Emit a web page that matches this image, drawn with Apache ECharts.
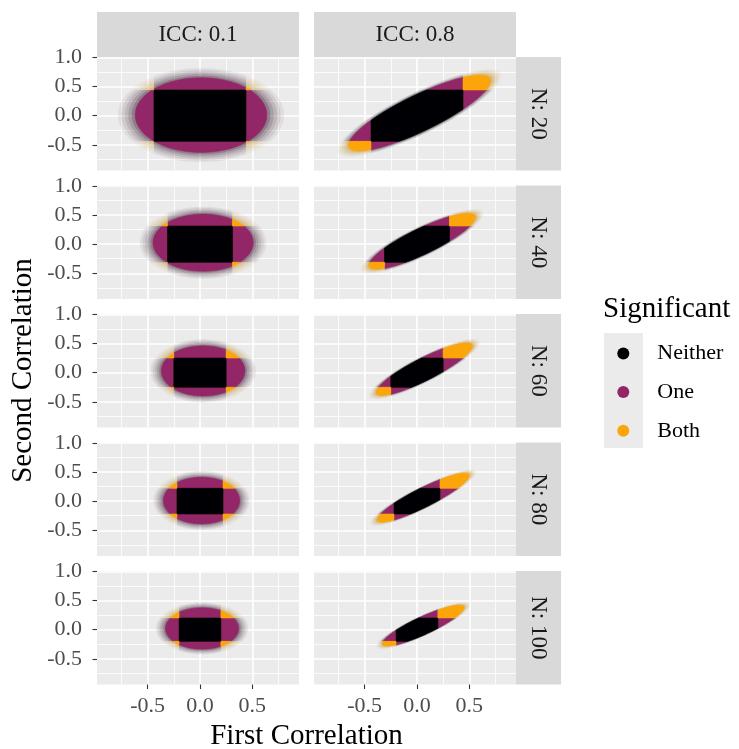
<!DOCTYPE html>
<html>
<head>
<meta charset="utf-8">
<script src="https://cdn.jsdelivr.net/npm/echarts@6/dist/echarts.min.js"></script>
<style>
  html, body { margin: 0; padding: 0; background: #fff; }
  #chart { width: 739px; height: 749px; }
</style>
</head>
<body>
<div id="chart"></div>
<script>
  // facets
  var nLevels = [20, 40, 60, 80, 100];
  var iccLevels = ['0.1', '0.8'];
  var sigLevels = ['Neither', 'One', 'Both'];

  // critical |r| for each N (edges of the black box)
  var critR = [0.44, 0.31, 0.25, 0.22, 0.20];

  // shape of the simulated cloud: rows = N, cols = ICC
  var centerX = [[0.01, 0.025], [0.03, 0.05], [0.03, 0.07], [0.015, 0.06], [0.02, 0.06]];
  var centerY = [[0.01, 0.045], [0.025, 0.05], [0.03, 0.06], [0.01, 0.06], [0.02, 0.07]];
  var spreadX = [[0.63, 0.68], [0.48, 0.51], [0.40, 0.46], [0.365, 0.44], [0.35, 0.39]];
  var spreadY = [[0.64, 0.65], [0.49, 0.48], [0.43, 0.45], [0.40, 0.42], [0.355, 0.35]];
  var cloudCorr = [[0, 0.85], [0, 0.86], [0, 0.88], [0, 0.9], [0, 0.88]];
  var fuzzScale = [1.26, 1.15];

  // axis limits and breaks
  var xRange = [-0.985, 0.947];
  var yRange = [-0.94, 1.005];
  var xBreaks = [-0.5, 0, 0.5];
  var xMinor = [-0.75, -0.25, 0.25, 0.75];
  var yBreaks = [-0.5, 0, 0.5, 1.0];
  var yMinor = [-0.75, -0.25, 0.25, 0.75];

  var classColors = ['#000004', '#932667', '#FCA50A'];
  var fuzzColors = ['#000004', '#4a3044', '#c99a3a'];
  var fuzzLayers = [
    {t: 1, a: 0.08}, {t: 0.8, a: 0.1}, {t: 0.6, a: 0.13},
    {t: 0.4, a: 0.18}, {t: 0.2, a: 0.28}, {t: 0, a: 1}
  ];

  var FONT = 'Liberation Serif';
  var colLeft = [97, 314];
  var panelW = 202, panelH = 113.5, rowTop0 = 57, rowPitch = 128.5;

  function rgba(hex, a) {
    var n = parseInt(hex.slice(1), 16);
    return 'rgba(' + (n >> 16 & 255) + ',' + (n >> 8 & 255) + ',' + (n & 255) + ',' + a + ')';
  }

  function ellipse(r, c, s) {
    var cx = centerX[r][c], cy = centerY[r][c];
    var a = spreadX[r][c] * s, b = spreadY[r][c] * s, rho = cloudCorr[r][c];
    var q = Math.sqrt(1 - rho * rho);
    var pts = [];
    for (var i = 0; i < 90; i++) {
      var t = i / 90 * 2 * Math.PI;
      pts.push([cx + a * Math.cos(t), cy + b * (rho * Math.cos(t) + q * Math.sin(t))]);
    }
    return pts;
  }

  function clipHalf(poly, axis, val, keepGreater) {
    if (!isFinite(val)) return poly;
    var out = [];
    for (var i = 0; i < poly.length; i++) {
      var P = poly[i], Q = poly[(i + 1) % poly.length];
      var pin = keepGreater ? P[axis] >= val : P[axis] <= val;
      var qin = keepGreater ? Q[axis] >= val : Q[axis] <= val;
      if (pin) out.push(P);
      if (pin !== qin) {
        var t = (val - P[axis]) / (Q[axis] - P[axis]);
        out.push([P[0] + t * (Q[0] - P[0]), P[1] + t * (Q[1] - P[1])]);
      }
    }
    return out;
  }

  function clipBox(poly, x0, x1, y0, y1) {
    poly = clipHalf(poly, 0, x0, true);
    if (poly.length) poly = clipHalf(poly, 0, x1, false);
    if (poly.length) poly = clipHalf(poly, 1, y0, true);
    if (poly.length) poly = clipHalf(poly, 1, y1, false);
    return poly;
  }

  function cloudRenderer(r, c, k) {
    return function (params, api) {
      var rc = critR[r];
      var cuts = [-Infinity, -rc, rc, Infinity];
      var children = [];
      fuzzLayers.forEach(function (layer) {
        var poly = ellipse(r, c, 1 + (fuzzScale[c] - 1) * layer.t);
        for (var i = 0; i < 3; i++) {
          for (var j = 0; j < 3; j++) {
            var cls = (i !== 1 ? 1 : 0) + (j !== 1 ? 1 : 0);
            if (cls !== k) continue;
            var part = clipBox(poly, cuts[i], cuts[i + 1], cuts[j], cuts[j + 1]);
            if (part.length < 3) continue;
            var solid = layer.t === 0;
            children.push({
              type: 'polygon',
              shape: {points: part.map(function (p) { return api.coord(p); })},
              style: solid
                ? {fill: classColors[k], stroke: classColors[k], lineWidth: 0.6}
                : {fill: rgba(fuzzColors[k], layer.a)}
            });
          }
        }
      });
      return {type: 'group', children: children};
    };
  }

  var grids = [], xAxes = [], yAxes = [], series = [], graphics = [];
  var fmt = function (v) { return Number(v).toFixed(1); };

  for (var r = 0; r < nLevels.length; r++) {
    for (var c = 0; c < iccLevels.length; c++) {
      var gi = grids.length;
      grids.push({
        left: colLeft[c], top: rowTop0 + r * rowPitch, width: panelW, height: panelH,
        show: true, backgroundColor: '#EBEBEB', borderWidth: 0
      });
      var bottomRow = r === nLevels.length - 1, leftCol = c === 0;
      // major x
      xAxes.push({
        type: 'value', gridIndex: gi, position: 'bottom', min: xRange[0], max: xRange[1],
        minInterval: 0.5, maxInterval: 0.5,
        axisLine: {show: false, onZero: false},
        axisTick: {show: bottomRow, customValues: xBreaks, length: 4.5, lineStyle: {color: '#333333', width: 1.1}},
        axisLabel: {show: bottomRow, customValues: xBreaks, formatter: fmt, margin: 11,
          fontFamily: FONT, fontSize: 22, color: '#4D4D4D'},
        splitLine: {show: true, lineStyle: {color: '#ffffff', width: 1.6}}
      });
      // minor x
      xAxes.push({
        type: 'value', gridIndex: gi, position: 'bottom', min: xRange[0], max: xRange[1],
        minInterval: 0.25, maxInterval: 0.25,
        axisLine: {show: false, onZero: false},
        axisTick: {show: false, customValues: xMinor},
        axisLabel: {show: false, customValues: xMinor},
        splitLine: {show: true, lineStyle: {color: '#ffffff', width: 0.8}}
      });
      yAxes.push({
        type: 'value', gridIndex: gi, position: 'left', min: yRange[0], max: yRange[1],
        minInterval: 0.5, maxInterval: 0.5,
        axisLine: {show: false, onZero: false},
        axisTick: {show: leftCol, customValues: yBreaks, length: 4.5, lineStyle: {color: '#333333', width: 1.1}},
        axisLabel: {show: leftCol, customValues: yBreaks, formatter: fmt, margin: 15,
          fontFamily: FONT, fontSize: 22, color: '#4D4D4D'},
        splitLine: {show: true, lineStyle: {color: '#ffffff', width: 1.6}}
      });
      yAxes.push({
        type: 'value', gridIndex: gi, position: 'left', min: yRange[0], max: yRange[1],
        minInterval: 0.25, maxInterval: 0.25,
        axisLine: {show: false, onZero: false},
        axisTick: {show: false, customValues: yMinor},
        axisLabel: {show: false, customValues: yMinor},
        splitLine: {show: true, lineStyle: {color: '#ffffff', width: 0.8}}
      });
      [1, 0, 2].forEach(function (k) {
        series.push({
          type: 'custom', name: sigLevels[k],
          xAxisIndex: 2 * gi, yAxisIndex: 2 * gi,
          data: [[0, 0]], clip: true, silent: true,
          itemStyle: {color: classColors[k]},
          renderItem: cloudRenderer(r, c, k)
        });
      });
    }
  }

  // column strips
  iccLevels.forEach(function (v, c) {
    graphics.push({type: 'rect', shape: {x: colLeft[c], y: 12, width: panelW, height: 45}, style: {fill: '#D9D9D9'}});
    graphics.push({type: 'text', x: colLeft[c] + panelW / 2, y: 35,
      style: {text: 'ICC: ' + v, font: '23px "' + FONT + '"', fill: '#1A1A1A', align: 'center', verticalAlign: 'middle'}});
  });
  // row strips
  nLevels.forEach(function (n, r) {
    var top = rowTop0 + r * rowPitch;
    graphics.push({type: 'rect', shape: {x: 516, y: top, width: 45, height: panelH}, style: {fill: '#D9D9D9'}});
    graphics.push({type: 'text', x: 538.5, y: top + panelH / 2, rotation: -Math.PI / 2,
      style: {text: 'N: ' + n, font: '23px "' + FONT + '"', fill: '#1A1A1A', align: 'center', verticalAlign: 'middle'}});
  });
  // axis titles
  graphics.push({type: 'text', x: 306.5, y: 736,
    style: {text: 'First Correlation', font: '29px "' + FONT + '"', fill: '#000', align: 'center', verticalAlign: 'middle'}});
  graphics.push({type: 'text', x: 23, y: 370.5, rotation: Math.PI / 2,
    style: {text: 'Second Correlation', font: '29px "' + FONT + '"', fill: '#000', align: 'center', verticalAlign: 'middle'}});
  // legend title and key background
  graphics.push({type: 'text', x: 603, y: 309,
    style: {text: 'Significant', font: '29px "' + FONT + '"', fill: '#000', align: 'left', verticalAlign: 'middle'}});
  graphics.push({type: 'rect', z: 0, shape: {x: 604, y: 333, width: 39, height: 115}, style: {fill: '#EBEBEB'}});

  var chart = echarts.init(document.getElementById('chart'), null, {renderer: 'canvas'});
  chart.setOption({
    animation: false,
    backgroundColor: '#ffffff',
    grid: grids,
    xAxis: xAxes,
    yAxis: yAxes,
    legend: {
      data: sigLevels, orient: 'vertical', left: 617.3, top: 342.4, padding: 0,
      itemWidth: 12, itemHeight: 12, itemGap: 16.7, icon: 'circle',
      selectedMode: false, z: 5,
      textStyle: {fontFamily: FONT, fontSize: 22, color: '#000', lineHeight: 22, padding: [0, 0, 0, 23]}
    },
    graphic: graphics,
    series: series
  });
</script>
</body>
</html>
